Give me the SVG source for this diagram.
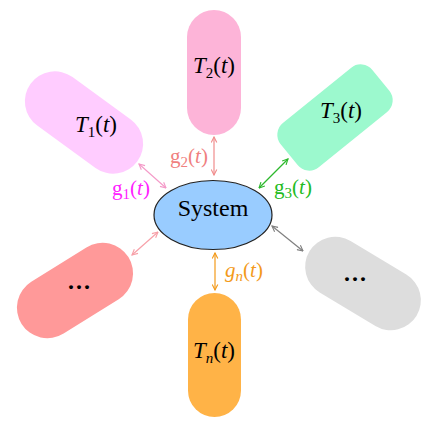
<svg xmlns="http://www.w3.org/2000/svg" width="436" height="429" viewBox="0 0 436 429">
<defs>
<style>
.lbl{font-family:"Liberation Serif","Times New Roman",serif;text-anchor:middle;}
.T{font-size:23px;fill:#000;}
.g{font-size:21px;}
.i{font-style:italic;}
.sub{font-size:15px;}
.con{fill:none;stroke-width:1.2;}
.dots{font-family:"Liberation Serif",serif;font-weight:bold;font-size:24px;text-anchor:middle;letter-spacing:2px;}
</style>
<marker id="m1" viewBox="0 0 10 10" refX="9" refY="5" markerWidth="7" markerHeight="7" markerUnits="userSpaceOnUse" orient="auto-start-reverse"><path d="M1,1 L9,5 L1,9" fill="none" stroke="#F49AC8" stroke-width="1.6"/></marker>
<marker id="m2" viewBox="0 0 10 10" refX="9" refY="5" markerWidth="7" markerHeight="7" markerUnits="userSpaceOnUse" orient="auto-start-reverse"><path d="M1,1 L9,5 L1,9" fill="none" stroke="#F08C8C" stroke-width="1.6"/></marker>
<marker id="m3" viewBox="0 0 10 10" refX="9" refY="5" markerWidth="7" markerHeight="7" markerUnits="userSpaceOnUse" orient="auto-start-reverse"><path d="M1,1 L9,5 L1,9" fill="none" stroke="#2DB82D" stroke-width="1.6"/></marker>
<marker id="mn" viewBox="0 0 10 10" refX="9" refY="5" markerWidth="7" markerHeight="7" markerUnits="userSpaceOnUse" orient="auto-start-reverse"><path d="M1,1 L9,5 L1,9" fill="none" stroke="#F39A1A" stroke-width="1.6"/></marker>
<marker id="mr" viewBox="0 0 10 10" refX="9" refY="5" markerWidth="7" markerHeight="7" markerUnits="userSpaceOnUse" orient="auto-start-reverse"><path d="M1,1 L9,5 L1,9" fill="none" stroke="#F7A0A8" stroke-width="1.6"/></marker>
<marker id="mg" viewBox="0 0 10 10" refX="9" refY="5" markerWidth="7" markerHeight="7" markerUnits="userSpaceOnUse" orient="auto-start-reverse"><path d="M1,1 L9,5 L1,9" fill="none" stroke="#808080" stroke-width="1.6"/></marker>
</defs>
<rect width="436" height="429" fill="#fff"/>

<g id="T1">
<rect x="18" y="92.5" width="132" height="60" rx="30" fill="#FFCCFF" transform="rotate(36 84 122.5)"/>
<text class="lbl T" x="96" y="132"><tspan class="i">T</tspan><tspan class="sub" dy="5">1</tspan><tspan dy="-5">(</tspan><tspan class="i">t</tspan>)</text>
</g>

<g id="T2">
<rect x="187" y="10" width="54" height="125" rx="27" fill="#FDB4D8"/>
<text class="lbl T" x="214" y="73"><tspan class="i">T</tspan><tspan class="sub" dy="5">2</tspan><tspan dy="-5">(</tspan><tspan class="i">t</tspan>)</text>
</g>

<g id="T3">
<rect x="276" y="89" width="118" height="57" rx="15" fill="#9CF9CE" transform="rotate(-39 335 117.5)"/>
<text class="lbl T" x="341" y="118"><tspan class="i">T</tspan><tspan class="sub" dy="5">3</tspan><tspan dy="-5">(</tspan><tspan class="i">t</tspan>)</text>
</g>

<g id="Tn">
<rect x="188" y="293" width="53" height="124" rx="26.5" fill="#FFB347"/>
<text class="lbl T" x="214" y="358"><tspan class="i">T</tspan><tspan class="sub i" dy="5">n</tspan><tspan dy="-5">(</tspan><tspan class="i">t</tspan>)</text>
</g>

<g id="Tleft">
<rect x="12" y="260" width="126" height="61" rx="30.5" fill="#FF9999" transform="rotate(-32 75 290.5)"/>
<text class="dots" x="80" y="289">...</text>
</g>

<g id="Tright">
<rect x="300.5" y="253.5" width="125" height="60" rx="30" fill="#DDDDDD" transform="rotate(31 363 283.5)"/>
<text class="dots" x="356" y="281">...</text>
</g>

<g id="System">
<ellipse cx="213" cy="215" rx="59" ry="34.5" fill="#99CCFF" stroke="#222" stroke-width="1.2"/>
<text class="lbl" x="213" y="216" font-size="24">System</text>
</g>

<g id="connectors">
<line class="con" x1="139" y1="164" x2="166" y2="188" stroke="#F49AC8" marker-start="url(#m1)" marker-end="url(#m1)"/>
<line class="con" x1="214" y1="137" x2="214" y2="175" stroke="#F08C8C" marker-start="url(#m2)" marker-end="url(#m2)"/>
<line class="con" x1="288" y1="159" x2="259" y2="188" stroke="#2DB82D" marker-start="url(#m3)" marker-end="url(#m3)"/>
<line class="con" x1="215" y1="253" x2="215" y2="290" stroke="#F39A1A" marker-start="url(#mn)" marker-end="url(#mn)"/>
<line class="con" x1="132" y1="255" x2="158" y2="232" stroke="#F7A0A8" marker-start="url(#mr)" marker-end="url(#mr)"/>
<line class="con" x1="272" y1="226" x2="303" y2="251" stroke="#808080" marker-start="url(#mg)" marker-end="url(#mg)"/>
</g>

<g id="labels">
<text class="lbl g" x="131" y="195" fill="#FF22FF">g<tspan class="sub" dy="4">1</tspan><tspan dy="-4">(</tspan><tspan class="i">t</tspan>)</text>
<text class="lbl g" x="189" y="163" fill="#F08080">g<tspan class="sub" dy="4">2</tspan><tspan dy="-4">(</tspan><tspan class="i">t</tspan>)</text>
<text class="lbl g" x="293" y="194" fill="#22BB22">g<tspan class="sub" dy="4">3</tspan><tspan dy="-4">(</tspan><tspan class="i">t</tspan>)</text>
<text class="lbl g" x="244" y="277" fill="#F39A1A"><tspan class="i">g</tspan><tspan class="sub i" dy="4">n</tspan><tspan dy="-4">(</tspan><tspan class="i">t</tspan>)</text>
</g>
</svg>
